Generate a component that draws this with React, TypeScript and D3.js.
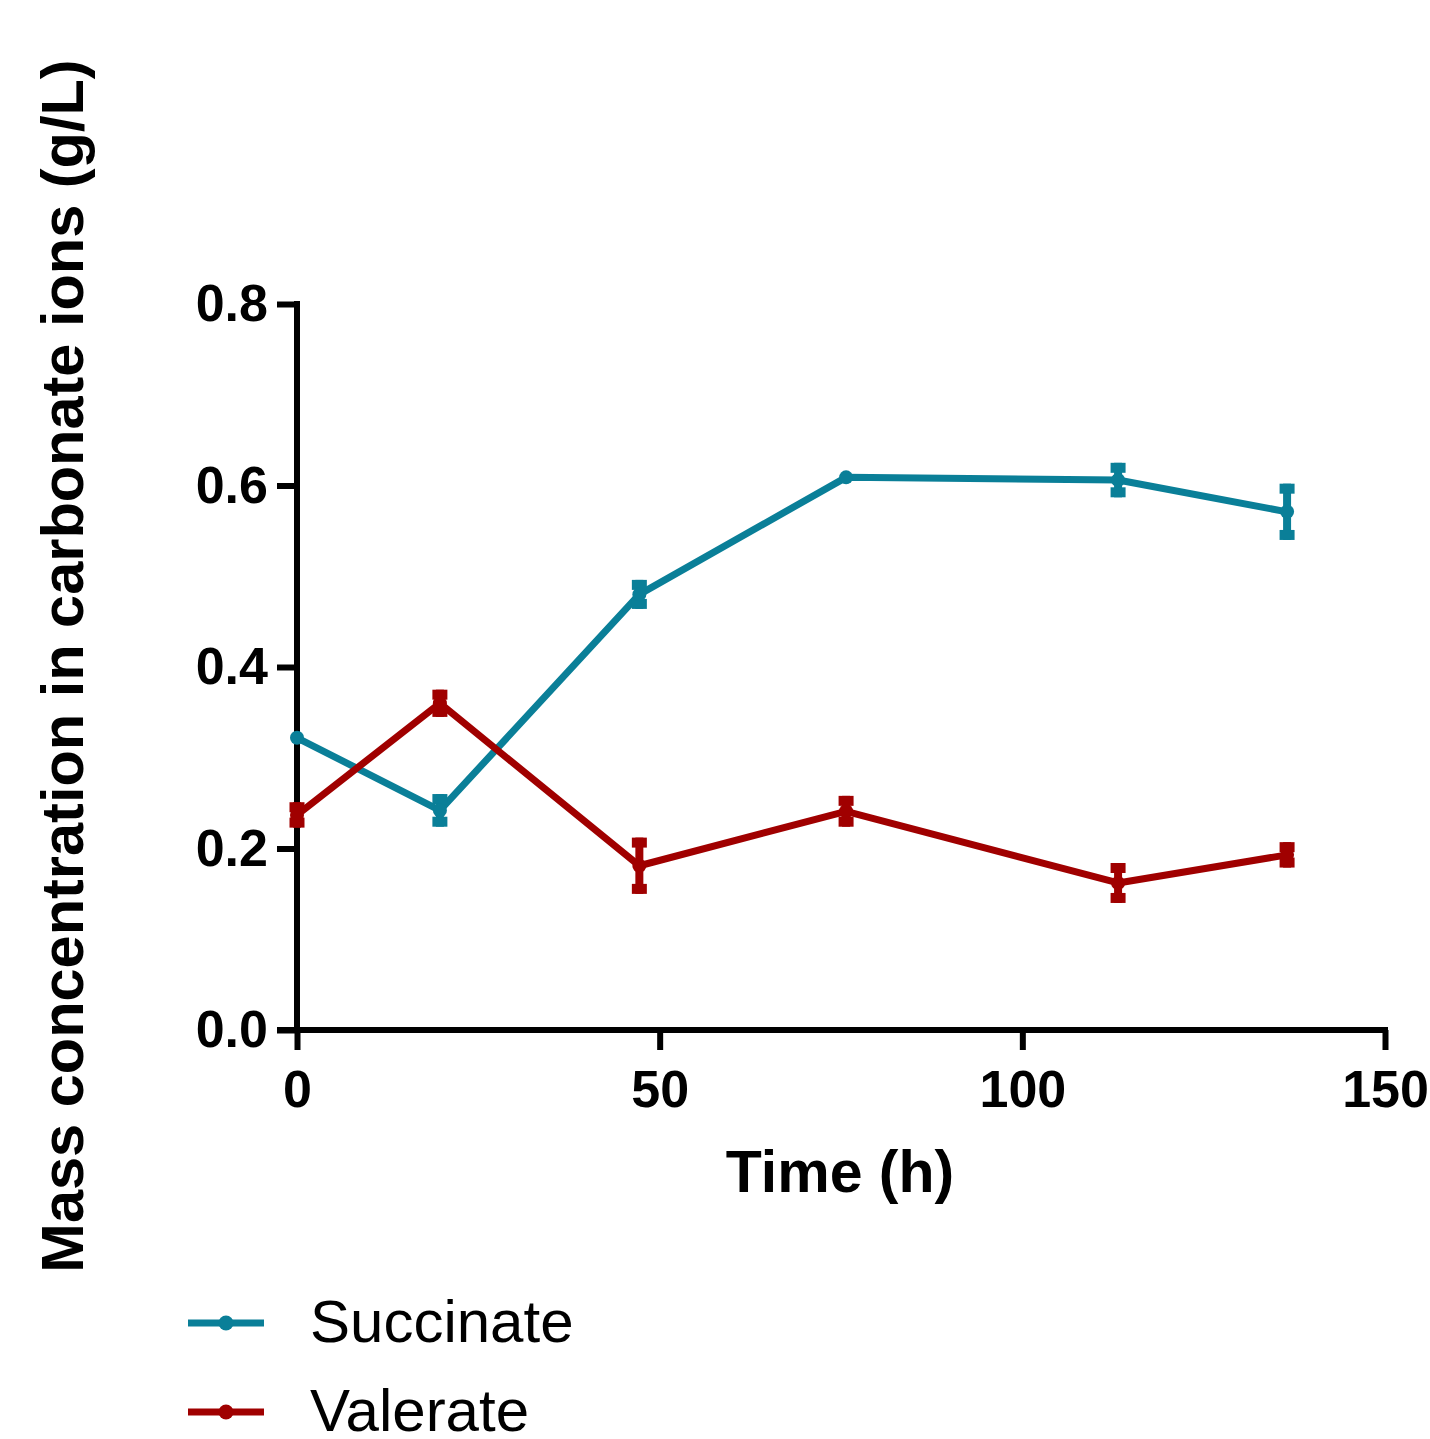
import React, { useEffect, useRef } from "react";
import * as d3 from "d3";

// time points (h)
const times = [0, 19.7, 47.2, 75.7, 113.2, 136.5];
const seriesNames = ["Succinate", "Valerate"];
const succinate = [0.322, 0.242, 0.48, 0.609, 0.606, 0.571];
const succinateErr = [0, 0.018, 0.016, 0, 0.019, 0.031];
const valerate = [0.237, 0.36, 0.181, 0.241, 0.162, 0.193];
const valerateErr = [0.014, 0.015, 0.031, 0.017, 0.022, 0.014];
const xTicks = [0, 50, 100, 150];
const yTicks = [0, 0.2, 0.4, 0.6, 0.8];

const colors = ["#0a7f98", "#a00000"];

const App = () => {
  const ref = useRef<SVGSVGElement | null>(null);

  useEffect(() => {
    const svg = d3.select(ref.current);
    svg.selectAll("*").remove();

    const x = d3.scaleLinear().domain([0, 150]).range([297, 1385]);
    const y = d3.scaleLinear().domain([0, 0.8]).range([1030, 304]);
    const font = "'Liberation Sans', Arial, sans-serif";

    // axes
    const yAxis = svg
      .append("g")
      .attr("transform", `translate(${x(0)},0)`)
      .call(d3.axisLeft(y).tickValues(yTicks).tickFormat(d3.format(".1f")).tickSize(20).tickPadding(9));
    const xAxis = svg
      .append("g")
      .attr("transform", `translate(0,${y(0)})`)
      .call(d3.axisBottom(x).tickValues(xTicks).tickFormat(d3.format("d")).tickSize(20).tickPadding(20));

    [yAxis, xAxis].forEach((g) => {
      g.select(".domain").remove();
      g.selectAll("line").attr("stroke", "#000").attr("stroke-width", 6);
      g.selectAll("text")
        .attr("fill", "#000")
        .style("font-family", font)
        .style("font-weight", "bold")
        .style("font-size", "52px");
    });

    svg.append("line")
      .attr("x1", x(0)).attr("x2", x(0))
      .attr("y1", y(0.8) - 3).attr("y2", y(0) + 3)
      .attr("stroke", "#000").attr("stroke-width", 6);
    svg.append("line")
      .attr("x1", x(0) - 20).attr("x2", x(150) + 3)
      .attr("y1", y(0)).attr("y2", y(0))
      .attr("stroke", "#000").attr("stroke-width", 6);

    // titles
    svg.append("text")
      .attr("x", 840).attr("y", 1192)
      .attr("text-anchor", "middle")
      .style("font-family", font).style("font-weight", "bold").style("font-size", "59px")
      .text("Time (h)");
    svg.append("text")
      .attr("transform", "translate(83,666) rotate(-90)")
      .attr("text-anchor", "middle")
      .style("font-family", font).style("font-weight", "bold").style("font-size", "59.5px")
      .text("Mass concentration in carbonate ions (g/L)");

    const series = [
      { vals: succinate, err: succinateErr },
      { vals: valerate, err: valerateErr },
    ];

    const line = d3
      .line<number>()
      .x((d, i) => x(times[i]))
      .y((d) => y(d));

    series.forEach((s, k) => {
      const g = svg.append("g");
      g.append("path")
        .datum(s.vals)
        .attr("fill", "none")
        .attr("stroke", colors[k])
        .attr("stroke-width", 7)
        .attr("stroke-linejoin", "round")
        .attr("d", line);

      const pts = s.vals.map((v, i) => ({ t: times[i], v, e: s.err[i] }));
      const bars = pts.filter((p) => p.e > 0);
      g.selectAll(".err")
        .data(bars)
        .enter()
        .append("line")
        .attr("x1", (d) => x(d.t)).attr("x2", (d) => x(d.t))
        .attr("y1", (d) => y(d.v + d.e)).attr("y2", (d) => y(d.v - d.e))
        .attr("stroke", colors[k]).attr("stroke-width", 8);
      [1, -1].forEach((sign) => {
        g.selectAll(".cap" + sign)
          .data(bars)
          .enter()
          .append("line")
          .attr("x1", (d) => x(d.t) - 7.5).attr("x2", (d) => x(d.t) + 7.5)
          .attr("y1", (d) => y(d.v + sign * d.e) + sign * 5)
          .attr("y2", (d) => y(d.v + sign * d.e) + sign * 5)
          .attr("stroke", colors[k]).attr("stroke-width", 10);
      });
      g.selectAll(".dot")
        .data(pts)
        .enter()
        .append("circle")
        .attr("cx", (d) => x(d.t))
        .attr("cy", (d) => y(d.v))
        .attr("r", 7)
        .attr("fill", colors[k]);
    });

    // legend
    seriesNames.forEach((name, k) => {
      const ly = 1323 + k * 89;
      svg.append("line")
        .attr("x1", 188).attr("x2", 264).attr("y1", ly).attr("y2", ly)
        .attr("stroke", colors[k]).attr("stroke-width", 7);
      svg.append("circle").attr("cx", 226).attr("cy", ly).attr("r", 7.5).attr("fill", colors[k]);
      svg.append("text")
        .attr("x", 310).attr("y", ly + 19)
        .style("font-family", font).style("font-size", "60px")
        .attr("fill", "#000")
        .text(name);
    });
  }, []);

  return (
    <div style={{ position: "absolute", left: 0, top: 0 }}>
      <svg ref={ref} width={1430} height={1439} style={{ display: "block", background: "#fff" }}></svg>
    </div>
  );
};

export default App;
